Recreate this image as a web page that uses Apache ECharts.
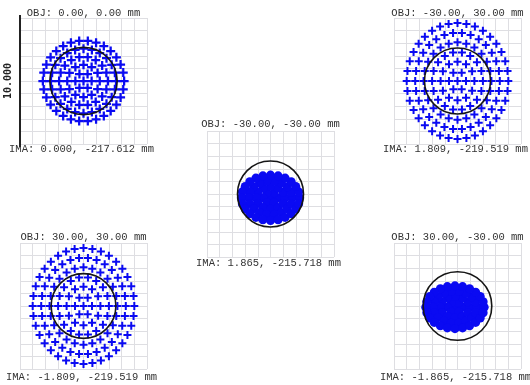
<!DOCTYPE html>
<html><head><meta charset="utf-8">
<script src="https://cdn.jsdelivr.net/npm/echarts@6/dist/echarts.min.js"></script>
<style>html,body{margin:0;padding:0;background:#fff}#c{width:530px;height:385px}</style>
</head><body><div id="c"></div><script>
// ---- labels ----
const objLabels = ['OBJ: 0.00, 0.00 mm', 'OBJ: -30.00, -30.00 mm', 'OBJ: -30.00, 30.00 mm', 'OBJ: 30.00, 30.00 mm', 'OBJ: 30.00, -30.00 mm'];
const imaLabels = ['IMA: 0.000, -217.612 mm', 'IMA: 1.865, -215.718 mm', 'IMA: 1.809, -219.519 mm', 'IMA: -1.809, -219.519 mm', 'IMA: -1.865, -215.718 mm'];
const scaleLabel = '10.000';
// Airy disk radius per panel (grid units, 10 units = full box)
const airyRadius = [2.65, 2.6, 2.6, 2.55, 2.7];

// ---- spot coordinates (grid units) ----
const spotsP1 = [[0,0],
[0.64,0],[0.32,0.55],[-0.32,0.55],[-0.64,0],[-0.32,-0.55],[0.32,-0.55],
[1.28,0],[1.11,0.64],[0.64,1.11],[0,1.28],[-0.64,1.11],[-1.11,0.64],[-1.28,0],[-1.11,-0.64],[-0.64,-1.11],[0,-1.28],[0.64,-1.11],[1.11,-0.64],
[1.92,0],[1.8,0.66],[1.47,1.23],[0.96,1.66],[0.33,1.89],[-0.33,1.89],[-0.96,1.66],[-1.47,1.23],[-1.8,0.66],[-1.92,0],[-1.8,-0.66],[-1.47,-1.23],[-0.96,-1.66],[-0.33,-1.89],[0.33,-1.89],[0.96,-1.66],[1.47,-1.23],[1.8,-0.66],
[2.56,0],[2.47,0.66],[2.22,1.28],[1.81,1.81],[1.28,2.22],[0.66,2.47],[0,2.56],[-0.66,2.47],[-1.28,2.22],[-1.81,1.81],[-2.22,1.28],[-2.47,0.66],[-2.56,0],[-2.47,-0.66],[-2.22,-1.28],[-1.81,-1.81],[-1.28,-2.22],[-0.66,-2.47],[0,-2.56],[0.66,-2.47],[1.28,-2.22],[1.81,-1.81],[2.22,-1.28],[2.47,-0.66],
[3.2,0],[3.13,0.67],[2.92,1.3],[2.59,1.88],[2.14,2.38],[1.6,2.77],[0.99,3.04],[0.34,3.18],[-0.34,3.18],[-0.99,3.04],[-1.6,2.77],[-2.14,2.38],[-2.59,1.88],[-2.92,1.3],[-3.13,0.67],[-3.2,0],[-3.13,-0.67],[-2.92,-1.3],[-2.59,-1.88],[-2.14,-2.38],[-1.6,-2.77],[-0.99,-3.04],[-0.34,-3.18],[0.34,-3.18],[0.99,-3.04],[1.6,-2.77],[2.14,-2.38],[2.59,-1.88],[2.92,-1.3],[3.13,-0.67]];

const spotsP2 = [[0,-0.3],
[0.58,-0.3],[0.29,0.09],[-0.29,0.09],[-0.58,-0.3],[-0.29,-0.69],[0.29,-0.69],
[1.15,-0.3],[1.0,0.15],[0.58,0.48],[0,0.6],[-0.58,0.48],[-1.0,0.15],[-1.15,-0.3],[-1.0,-0.75],[-0.58,-1.08],[0,-1.2],[0.58,-1.08],[1.0,-0.75],
[1.73,-0.3],[1.62,0.16],[1.32,0.57],[0.86,0.87],[0.3,1.03],[-0.3,1.03],[-0.86,0.87],[-1.32,0.57],[-1.62,0.16],[-1.73,-0.3],[-1.62,-0.76],[-1.32,-1.17],[-0.86,-1.47],[-0.3,-1.63],[0.3,-1.63],[0.86,-1.47],[1.32,-1.17],[1.62,-0.76],
[2.3,-0.3],[2.22,0.17],[1.99,0.6],[1.63,0.97],[1.15,1.26],[0.6,1.44],[0,1.5],[-0.6,1.44],[-1.15,1.26],[-1.63,0.97],[-1.99,0.6],[-2.22,0.17],[-2.3,-0.3],[-2.22,-0.77],[-1.99,-1.2],[-1.63,-1.57],[-1.15,-1.86],[-0.6,-2.04],[0,-2.1],[0.6,-2.04],[1.15,-1.86],[1.63,-1.57],[1.99,-1.2],[2.22,-0.77]];

const spotsP3 = [[0,0],
[0.67,0],[0.33,0.66],[-0.33,0.66],[-0.67,0],[-0.33,-0.66],[0.33,-0.66],
[1.33,0],[1.15,0.77],[0.67,1.33],[0,1.53],[-0.67,1.33],[-1.15,0.77],[-1.33,0],[-1.15,-0.77],[-0.67,-1.33],[0,-1.53],[0.67,-1.33],[1.15,-0.77],
[2,0],[1.88,0.79],[1.53,1.48],[1,1.99],[0.35,2.27],[-0.35,2.27],[-1,1.99],[-1.53,1.48],[-1.88,0.79],[-2,0],[-1.88,-0.79],[-1.53,-1.48],[-1,-1.99],[-0.35,-2.27],[0.35,-2.27],[1,-1.99],[1.53,-1.48],[1.88,-0.79],
[2.67,0],[2.58,0.79],[2.31,1.53],[1.89,2.17],[1.33,2.66],[0.69,2.96],[0,3.07],[-0.69,2.96],[-1.33,2.66],[-1.89,2.17],[-2.31,1.53],[-2.58,0.79],[-2.67,0],[-2.58,-0.79],[-2.31,-1.53],[-1.89,-2.17],[-1.33,-2.66],[-0.69,-2.96],[0,-3.07],[0.69,-2.96],[1.33,-2.66],[1.89,-2.17],[2.31,-1.53],[2.58,-0.79],
[3.33,0],[3.26,0.8],[3.05,1.56],[2.7,2.25],[2.23,2.85],[1.67,3.32],[1.03,3.65],[0.35,3.81],[-0.35,3.81],[-1.03,3.65],[-1.67,3.32],[-2.23,2.85],[-2.7,2.25],[-3.05,1.56],[-3.26,0.8],[-3.33,0],[-3.26,-0.8],[-3.05,-1.56],[-2.7,-2.25],[-2.23,-2.85],[-1.67,-3.32],[-1.03,-3.65],[-0.35,-3.81],[0.35,-3.81],[1.03,-3.65],[1.67,-3.32],[2.23,-2.85],[2.7,-2.25],[3.05,-1.56],[3.26,-0.8],
[4,0],[3.94,0.8],[3.76,1.57],[3.46,2.3],[3.06,2.96],[2.57,3.52],[2,3.98],[1.37,4.32],[0.7,4.53],[0,4.6],[-0.7,4.53],[-1.37,4.32],[-2,3.98],[-2.57,3.52],[-3.06,2.96],[-3.46,2.3],[-3.76,1.57],[-3.94,0.8],[-4,0],[-3.94,-0.8],[-3.76,-1.57],[-3.46,-2.3],[-3.06,-2.96],[-2.57,-3.52],[-2,-3.98],[-1.37,-4.32],[-0.7,-4.53],[0,-4.6],[0.7,-4.53],[1.37,-4.32],[2,-3.98],[2.57,-3.52],[3.06,-2.96],[3.46,-2.3],[3.76,-1.57],[3.94,-0.8]];

const spotsP4 = [[0,0],
[-0.67,0],[-0.33,0.66],[0.33,0.66],[0.67,0],[0.33,-0.66],[-0.33,-0.66],
[-1.33,0],[-1.15,0.77],[-0.67,1.33],[0,1.53],[0.67,1.33],[1.15,0.77],[1.33,0],[1.15,-0.77],[0.67,-1.33],[0,-1.53],[-0.67,-1.33],[-1.15,-0.77],
[-2,0],[-1.88,0.79],[-1.53,1.48],[-1,1.99],[-0.35,2.27],[0.35,2.27],[1,1.99],[1.53,1.48],[1.88,0.79],[2,0],[1.88,-0.79],[1.53,-1.48],[1,-1.99],[0.35,-2.27],[-0.35,-2.27],[-1,-1.99],[-1.53,-1.48],[-1.88,-0.79],
[-2.67,0],[-2.58,0.79],[-2.31,1.53],[-1.89,2.17],[-1.33,2.66],[-0.69,2.96],[0,3.07],[0.69,2.96],[1.33,2.66],[1.89,2.17],[2.31,1.53],[2.58,0.79],[2.67,0],[2.58,-0.79],[2.31,-1.53],[1.89,-2.17],[1.33,-2.66],[0.69,-2.96],[0,-3.07],[-0.69,-2.96],[-1.33,-2.66],[-1.89,-2.17],[-2.31,-1.53],[-2.58,-0.79],
[-3.33,0],[-3.26,0.8],[-3.05,1.56],[-2.7,2.25],[-2.23,2.85],[-1.67,3.32],[-1.03,3.65],[-0.35,3.81],[0.35,3.81],[1.03,3.65],[1.67,3.32],[2.23,2.85],[2.7,2.25],[3.05,1.56],[3.26,0.8],[3.33,0],[3.26,-0.8],[3.05,-1.56],[2.7,-2.25],[2.23,-2.85],[1.67,-3.32],[1.03,-3.65],[0.35,-3.81],[-0.35,-3.81],[-1.03,-3.65],[-1.67,-3.32],[-2.23,-2.85],[-2.7,-2.25],[-3.05,-1.56],[-3.26,-0.8],
[-4,0],[-3.94,0.8],[-3.76,1.57],[-3.46,2.3],[-3.06,2.96],[-2.57,3.52],[-2,3.98],[-1.37,4.32],[-0.7,4.53],[0,4.6],[0.7,4.53],[1.37,4.32],[2,3.98],[2.57,3.52],[3.06,2.96],[3.46,2.3],[3.76,1.57],[3.94,0.8],[4,0],[3.94,-0.8],[3.76,-1.57],[3.46,-2.3],[3.06,-2.96],[2.57,-3.52],[2,-3.98],[1.37,-4.32],[0.7,-4.53],[0,-4.6],[-0.7,-4.53],[-1.37,-4.32],[-2,-3.98],[-2.57,-3.52],[-3.06,-2.96],[-3.46,-2.3],[-3.76,-1.57],[-3.94,-0.8]];

const spotsP5 = [[-0.2,-0.1],
[0.38,-0.1],[0.09,0.27],[-0.49,0.27],[-0.78,-0.1],[-0.49,-0.47],[0.09,-0.47],
[0.95,-0.1],[0.8,0.33],[0.38,0.64],[-0.2,0.75],[-0.78,0.64],[-1.2,0.33],[-1.35,-0.1],[-1.2,-0.53],[-0.78,-0.84],[-0.2,-0.95],[0.38,-0.84],[0.8,-0.53],
[1.53,-0.1],[1.42,0.34],[1.12,0.72],[0.66,1.0],[0.1,1.16],[-0.5,1.16],[-1.06,1.0],[-1.52,0.72],[-1.82,0.34],[-1.93,-0.1],[-1.82,-0.54],[-1.52,-0.92],[-1.06,-1.2],[-0.5,-1.36],[0.1,-1.36],[0.66,-1.2],[1.12,-0.92],[1.42,-0.54],
[2.1,-0.1],[2.02,0.34],[1.79,0.75],[1.43,1.1],[0.95,1.37],[0.4,1.54],[-0.2,1.6],[-0.8,1.54],[-1.35,1.37],[-1.83,1.1],[-2.19,0.75],[-2.42,0.34],[-2.5,-0.1],[-2.42,-0.54],[-2.19,-0.95],[-1.83,-1.3],[-1.35,-1.57],[-0.8,-1.74],[-0.2,-1.8],[0.4,-1.74],[0.95,-1.57],[1.43,-1.3],[1.79,-0.95],[2.02,-0.54]];

const allSpots = [spotsP1, spotsP2, spotsP3, spotsP4, spotsP5];

// ---- layout (pixels) ----
const boxes = [
  {left: 20, top: 18, objY: 13, imaY: 149},
  {left: 207, top: 131, objY: 124, imaY: 263},
  {left: 394, top: 18, objY: 13, imaY: 149},
  {left: 20, top: 243, objY: 237, imaY: 377},
  {left: 394, top: 243, objY: 237, imaY: 377}
];
const BOX = 127;
const PLUS = 'path://M3,0H5V3H8V5H5V8H3V5H0V3H3Z';
const markerSym = [PLUS, 'circle', PLUS, PLUS, 'circle'];
const markerSize = [9, 9, 8, 8, 9];
const BLUE = '#0a0af2';
const FONT = '10.5px "Liberation Mono", "DejaVu Sans Mono", monospace';
const TEXT_COLOR = '#333';

const grid = [], xAxis = [], yAxis = [], series = [], graphic = [];
boxes.forEach((b, i) => {
  grid.push({left: b.left, top: b.top, width: BOX, height: BOX - 1});
  const common = {
    gridIndex: i, type: 'value', min: -5, max: 5, interval: 1,
    axisLabel: {show: false}, axisTick: {show: false},
    axisLine: {show: false},
    splitLine: {show: true, lineStyle: {color: '#dedee2', width: 1}}
  };
  xAxis.push(Object.assign({}, common));
  const ya = Object.assign({}, common);
  if (i === 0) {
    ya.axisLine = {show: true, onZero: false, lineStyle: {color: '#222', width: 2},
      symbol: ['rect', 'rect'], symbolSize: [2, 6]};
    ya.name = scaleLabel;
    ya.nameLocation = 'middle';
    ya.nameGap = 7;
    ya.nameRotate = 90;
    ya.nameTextStyle = {color: '#222', fontFamily: '"DejaVu Sans Mono", monospace', fontSize: 10, fontWeight: 'bold'};
  }
  yAxis.push(ya);
  series.push({
    type: 'scatter', xAxisIndex: i, yAxisIndex: i, data: allSpots[i],
    symbol: markerSym[i], symbolSize: markerSize[i],
    itemStyle: {color: BLUE, opacity: 1}, silent: true, z: 2
  });
  series.push({
    type: 'custom', xAxisIndex: i, yAxisIndex: i, data: [[0, 0, airyRadius[i]]],
    z: 5, silent: true,
    renderItem: (params, api) => {
      const c = api.coord([api.value(0), api.value(1)]);
      const r = api.size([api.value(2), 0])[0];
      return {type: 'circle', shape: {cx: c[0], cy: c[1], r: r},
        style: {fill: 'none', stroke: '#151515', lineWidth: 1.6}};
    }
  });
  const cx = b.left + BOX / 2;
  graphic.push({type: 'text', x: cx, y: b.objY, style: {text: objLabels[i], font: FONT, fill: TEXT_COLOR, align: 'center', verticalAlign: 'middle'}});
  graphic.push({type: 'text', x: cx - 2, y: b.imaY, style: {text: imaLabels[i], font: FONT, fill: TEXT_COLOR, align: 'center', verticalAlign: 'middle'}});
});

const chart = echarts.init(document.getElementById('c'), null, {renderer: 'canvas'});
chart.setOption({animation: false, backgroundColor: '#fff', grid, xAxis, yAxis, series, graphic});
</script></body></html>
